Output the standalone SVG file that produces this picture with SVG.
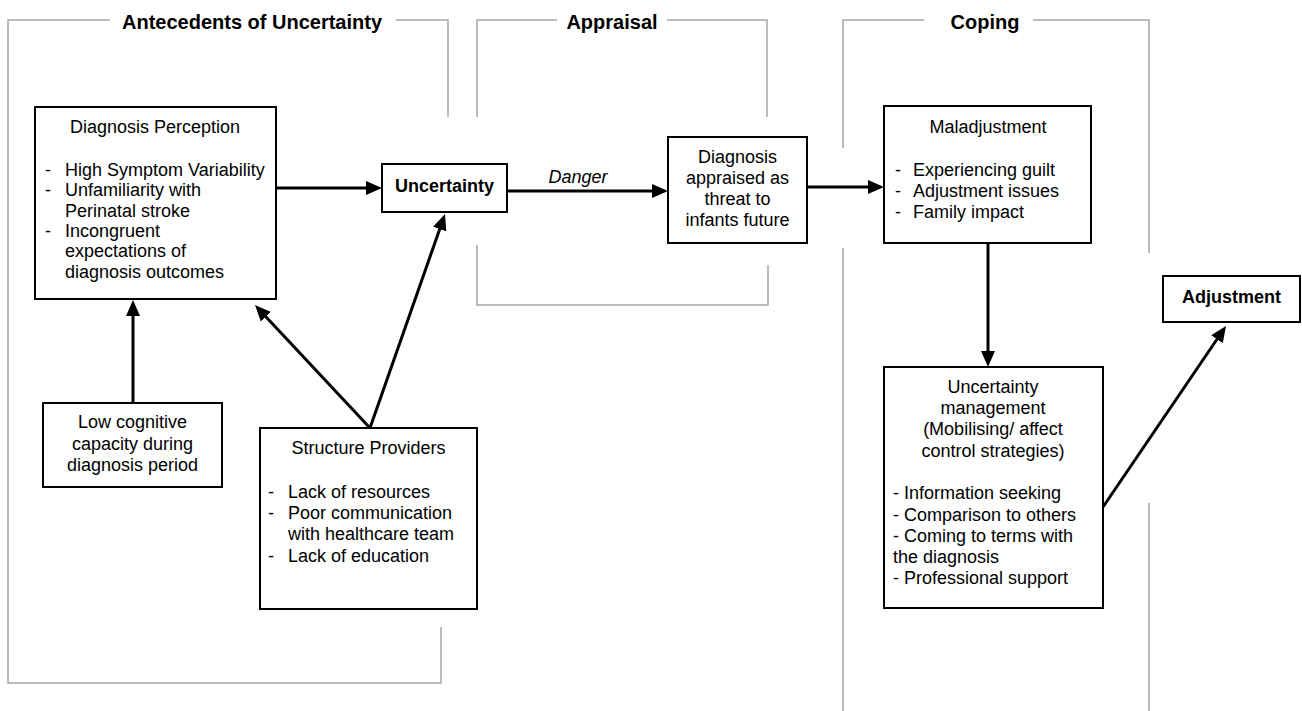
<svg xmlns="http://www.w3.org/2000/svg" width="1302" height="711" viewBox="0 0 1302 711">
<style>
.frame{fill:none;stroke:#a6a6a6;stroke-width:1.5}
.box{fill:#fff;stroke:#000;stroke-width:2}
.t{font-family:"Liberation Sans",Arial,sans-serif;font-size:18px;fill:#000}
.c{text-anchor:middle}
.b{font-weight:bold}
.h{font-family:"Liberation Sans",Arial,sans-serif;font-size:20px;font-weight:bold;fill:#000;text-anchor:middle}
.conn{stroke:#000;stroke-width:3;fill:none;marker-end:url(#ah)}
</style>
<defs>
<marker id="ah" markerUnits="userSpaceOnUse" markerWidth="16" markerHeight="14" refX="10" refY="7" orient="auto">
<path d="M0,0 L16,7 L0,14 z" fill="#000"/>
</marker>
</defs>
<rect width="1302" height="711" fill="#fff"/>
<g id="frames">
<polyline class="frame" points="110,20 8,20 8,683 441,683 441,627"/>
<polyline class="frame" points="396,20 448,20 448,117"/>
<polyline class="frame" points="557,20 477,20 477,117"/>
<polyline class="frame" points="667,20 767,20 767,117"/>
<polyline class="frame" points="477,245 477,305 768,305 768,265"/>
<polyline class="frame" points="924,20 843,20 843,148"/>
<line class="frame" x1="843" y1="248" x2="843" y2="711"/>
<polyline class="frame" points="1033,20 1149,20 1149,253"/>
<line class="frame" x1="1149" y1="503" x2="1149" y2="711"/>
<text class="h" x="252" y="29">Antecedents of Uncertainty</text>
<text class="h" x="612" y="29">Appraisal</text>
<text class="h" x="985" y="29">Coping</text>
</g>
<g id="connectors">
<line class="conn" x1="276" y1="188" x2="376" y2="188"/>
<line class="conn" x1="507" y1="191" x2="662" y2="191"/>
<line class="conn" x1="807" y1="187" x2="878" y2="187"/>
<line class="conn" x1="988" y1="243" x2="988" y2="361"/>
<line class="conn" x1="133" y1="403" x2="133" y2="306"/>
<line class="conn" x1="370" y1="428" x2="259.1" y2="309.4"/>
<line class="conn" x1="370" y1="428" x2="443" y2="219.7"/>
<line class="conn" x1="1103" y1="507" x2="1222.6" y2="331"/>
<text class="t" x="578" y="183" text-anchor="middle" font-style="italic">Danger</text>
</g>
<g id="diagnosis-perception">
<rect class="box" x="35" y="107" width="241" height="192"/>
<text class="t c" x="155" y="133">Diagnosis Perception</text>
<text class="t" x="45" y="176">-</text>
<text class="t" x="65" y="176">High Symptom Variability</text>
<text class="t" x="45" y="196">-</text>
<text class="t" x="65" y="196">Unfamiliarity with</text>
<text class="t" x="65" y="217">Perinatal stroke</text>
<text class="t" x="45" y="237">-</text>
<text class="t" x="65" y="237">Incongruent</text>
<text class="t" x="65" y="257">expectations of</text>
<text class="t" x="65" y="278">diagnosis outcomes</text>
</g>
<g id="uncertainty">
<rect class="box" x="382" y="164" width="125" height="48"/>
<text class="t c b" x="444.5" y="192">Uncertainty</text>
</g>
<g id="appraised">
<rect class="box" x="668" y="137" width="139" height="106"/>
<text class="t c" x="737.5" y="163">Diagnosis</text>
<text class="t c" x="737.5" y="184">appraised as</text>
<text class="t c" x="737.5" y="205">threat to</text>
<text class="t c" x="737.5" y="226">infants future</text>
</g>
<g id="maladjustment">
<rect class="box" x="884" y="106" width="207" height="137"/>
<text class="t c" x="988" y="133">Maladjustment</text>
<text class="t" x="895" y="176">-</text>
<text class="t" x="913" y="176">Experiencing guilt</text>
<text class="t" x="895" y="197">-</text>
<text class="t" x="913" y="197">Adjustment issues</text>
<text class="t" x="895" y="218">-</text>
<text class="t" x="913" y="218">Family impact</text>
</g>
<g id="uncertainty-management">
<rect class="box" x="884" y="367" width="219" height="241"/>
<text class="t c" x="993" y="393">Uncertainty</text>
<text class="t c" x="993" y="414">management</text>
<text class="t c" x="993" y="435">(Mobilising/ affect</text>
<text class="t c" x="993" y="457">control strategies)</text>
<text class="t" x="893" y="499">- Information seeking</text>
<text class="t" x="893" y="521">- Comparison to others</text>
<text class="t" x="893" y="542">- Coming to terms with</text>
<text class="t" x="893" y="563">the diagnosis</text>
<text class="t" x="893" y="584">- Professional support</text>
</g>
<g id="adjustment">
<rect class="box" x="1163" y="276" width="137" height="46"/>
<text class="t c b" x="1231.5" y="303">Adjustment</text>
</g>
<g id="low-cognitive">
<rect class="box" x="43" y="403" width="179" height="84"/>
<text class="t c" x="132.5" y="428">Low cognitive</text>
<text class="t c" x="132.5" y="450">capacity during</text>
<text class="t c" x="132.5" y="471">diagnosis period</text>
</g>
<g id="structure-providers">
<rect class="box" x="260" y="428" width="217" height="181"/>
<text class="t c" x="368.5" y="454">Structure Providers</text>
<text class="t" x="268" y="498">-</text>
<text class="t" x="288" y="498">Lack of resources</text>
<text class="t" x="268" y="519">-</text>
<text class="t" x="288" y="519">Poor communication</text>
<text class="t" x="288" y="540">with healthcare team</text>
<text class="t" x="268" y="562">-</text>
<text class="t" x="288" y="562">Lack of education</text>
</g>
</svg>
